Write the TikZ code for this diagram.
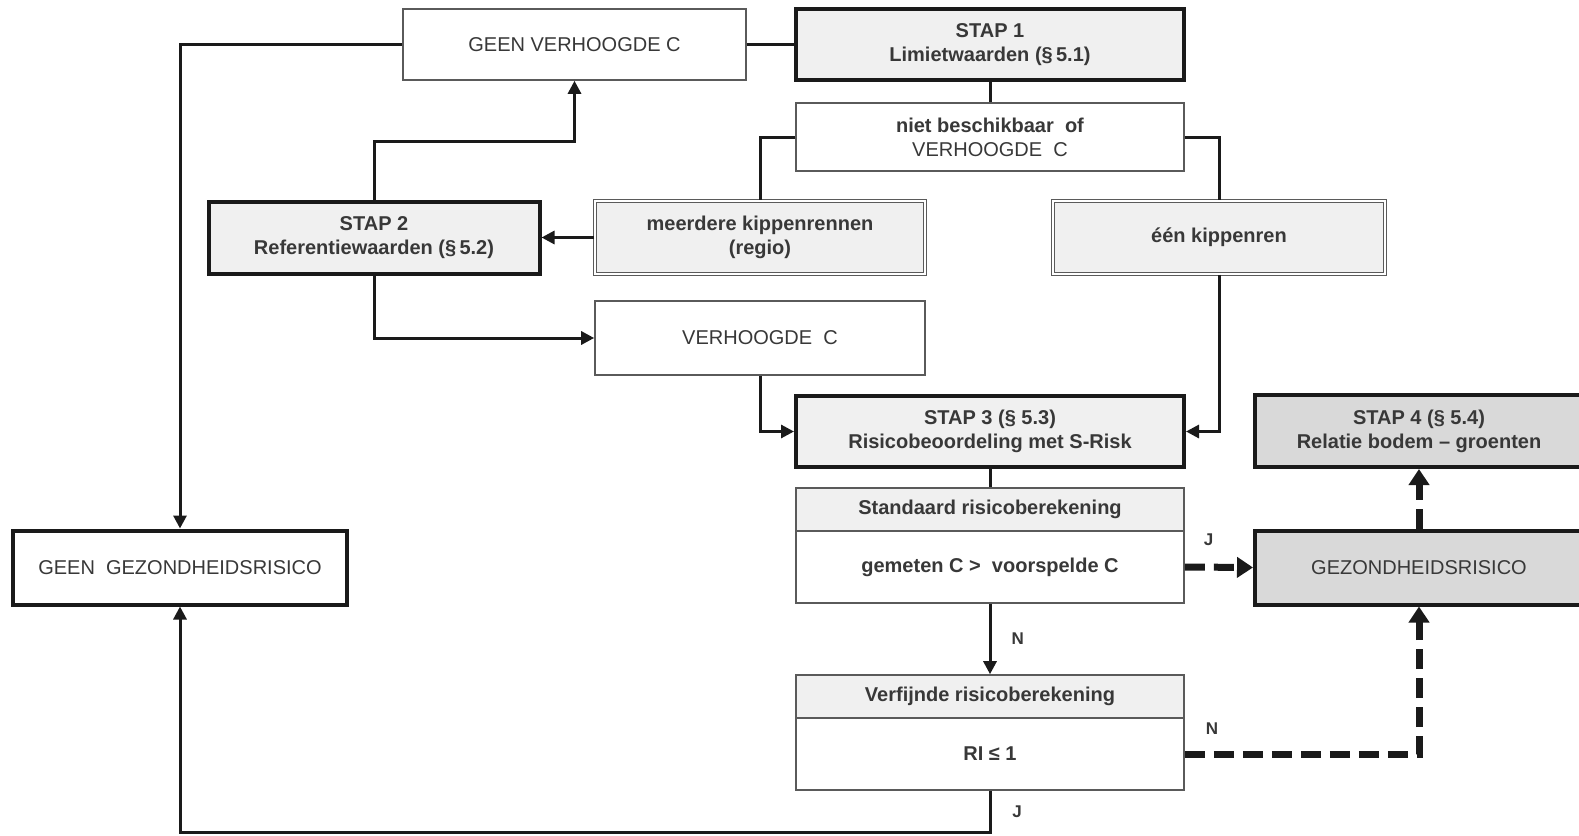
\documentclass[tikz,border=0pt]{standalone}
\usepackage{fontspec}
\setmainfont{Liberation Sans}
\usetikzlibrary{arrows.meta,calc}
\definecolor{txt}{HTML}{383838}
\definecolor{thin}{HTML}{5A5A5A}
\definecolor{light}{HTML}{F0F0F0}
\definecolor{mid}{HTML}{D9D9D9}
\definecolor{ln}{HTML}{1A1A1A}
\tikzset{
  base/.style={rectangle, inner sep=0pt, align=center, text=txt, font=\fontsize{10}{12}\selectfont},
  thinbox/.style={base, draw=thin, line width=0.8pt, fill=white},
  thickbox/.style={base, draw=ln, line width=2pt, fill=light},
  darkbox/.style={base, draw=ln, line width=2pt, fill=mid},
  dblbox/.style={base, draw=thin, line width=0.6pt, double=white, double distance=1.2pt, fill=light},
  conn/.style={draw=ln, line width=1.5pt},
  arr/.style={conn, -{Triangle[length=6.5pt,width=6.5pt]}},
  darr/.style={draw=ln, line width=3.5pt, dash pattern=on 10pt off 4.5pt, -{Triangle[length=8pt,width=10pt]}},
  lbl/.style={text=txt, font=\bfseries\fontsize{8.5}{10}\selectfont, inner sep=0pt}
}
\begin{document}
\begin{tikzpicture}[x=0.5pt,y=-0.5pt]
\useasboundingbox (0,0) rectangle (1579,835);
\clip (0,0) rectangle (1579,835);
\fill[white] (0,0) rectangle (1579,835);

% nodes
\node[thinbox, minimum width=171.5pt, minimum height=35.5pt] (gvc) at (574.5,44.5) {GEEN VERHOOGDE C};
\node[thickbox, minimum width=194pt, minimum height=35.5pt, font=\bfseries\fontsize{10}{12}\selectfont] (s1) at (990,44.5) {STAP 1\\Limietwaarden (§\,5.1)};
\node[thinbox, minimum width=194pt, minimum height=34pt] (nb) at (990,137) {\textbf{niet beschikbaar\ \ of}\\VERHOOGDE\ \ C};
\node[dblbox, minimum width=165pt, minimum height=36.5pt, font=\bfseries\fontsize{10}{12}\selectfont] (mk) at (760,237.5) {meerdere kippenrennen\\(regio)};
\node[dblbox, minimum width=166pt, minimum height=36.5pt, font=\bfseries\fontsize{10}{12}\selectfont] (ek) at (1219,237.5) {één kippenren};
\node[thickbox, minimum width=165.5pt, minimum height=36pt, font=\bfseries\fontsize{10}{12}\selectfont] (s2) at (374,237.5) {STAP 2\\Referentiewaarden (§\,5.2)};
\node[thinbox, minimum width=165pt, minimum height=37pt] (vc) at (760,338) {VERHOOGDE\ \ C};
\node[thickbox, minimum width=194pt, minimum height=35.5pt, font=\bfseries\fontsize{10}{12}\selectfont] (s3) at (990,431.5) {STAP 3 (§ 5.3)\\Risicobeoordeling met S-Risk};
\node[thinbox, fill=light, minimum width=194pt, minimum height=21.5pt, font=\bfseries\fontsize{10}{12}\selectfont] (sh) at (990,509.5) {Standaard risicoberekening};
\node[thinbox, minimum width=194pt, minimum height=36pt, font=\bfseries\fontsize{10}{12}\selectfont] (sb) at (990,567) {gemeten C >\ \ voorspelde C};
\node[thinbox, fill=light, minimum width=194pt, minimum height=21.5pt, font=\bfseries\fontsize{10}{12}\selectfont] (vh) at (990,696.5) {Verfijnde risicoberekening};
\node[thinbox, minimum width=194pt, minimum height=36pt, font=\bfseries\fontsize{10}{12}\selectfont] (vb) at (990,754) {RI ≤ 1};
\node[darkbox, minimum width=164pt, minimum height=37pt] (gz) at (1419,567.5) {GEZONDHEIDSRISICO};
\node[darkbox, minimum width=164pt, minimum height=36pt, font=\bfseries\fontsize{10}{12}\selectfont] (s4) at (1419,431) {STAP 4 (§ 5.4)\\Relatie bodem – groenten};
\node[thickbox, fill=white, minimum width=167pt, minimum height=37pt] (ggz) at (180,567.5) {GEEN\ \ GEZONDHEIDSRISICO};

% coordinates
\coordinate (k1) at (574.5,141);
\coordinate (k2) at (990,832);

% connectors
\draw[conn] (gvc.east) -- (s1.west);
\draw[arr] (gvc.west) -| (ggz.north);
\draw[conn] (s1.south) -- (nb.north);
\draw[conn] (nb.west) -| (mk.north);
\draw[conn] (nb.east) -| (ek.north);
\draw[arr] (mk.west) -- (s2.east);
\draw[arr] (s2.north) |- (k1) -- (gvc.south);
\draw[arr] (s2.south) |- (vc.west);
\draw[arr] (vc.south) |- (s3.west);
\draw[arr] (ek.south) |- (s3.east);
\draw[conn] (s3.south) -- (sh.north);
\draw[darr] (sb.east) -- (gz.west) node[lbl, pos=0.35, above=9pt] {J};
\draw[darr] (gz.north) -- (s4.south);
\draw[arr] (sb.south) -- (vh.north) node[lbl, midway, right=10pt] {N};
\draw[darr] (vb.east) -| (gz.south);
\node[lbl] (ln1) at (1212,729) {N};
\draw[arr] (vb.south) -- (k2) -| (ggz.south);
\node[lbl] (lj2) at (1017,812) {J};
\end{tikzpicture}
\end{document}
